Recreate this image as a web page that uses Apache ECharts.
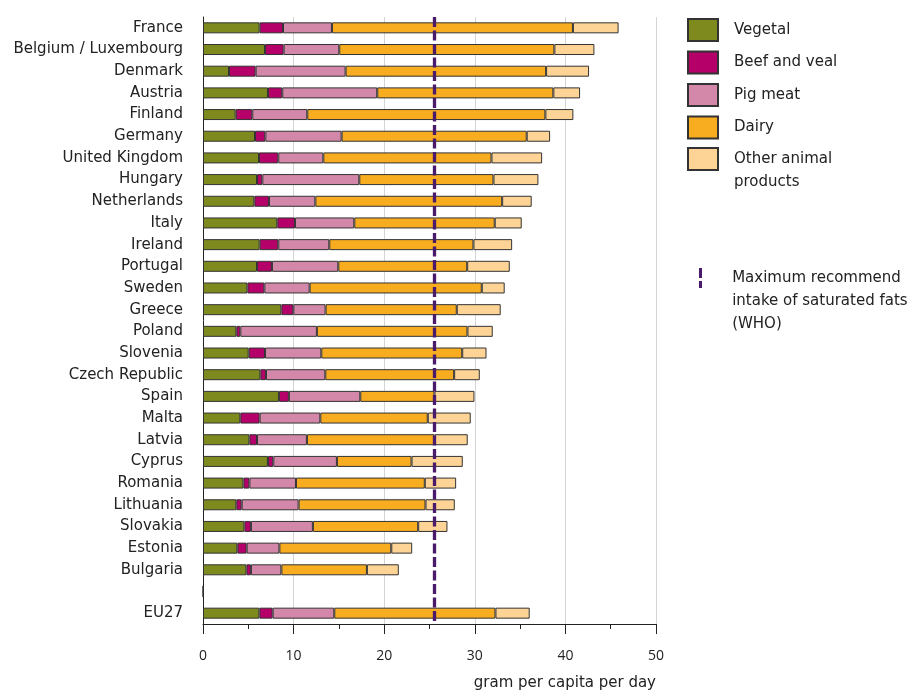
<!DOCTYPE html>
<html>
<head>
<meta charset="utf-8">
<script src="https://cdn.jsdelivr.net/npm/echarts@6/dist/echarts.min.js"></script>
<style>
html,body{margin:0;padding:0;background:#fff;}
#chart{width:911px;height:691px;}
</style>
</head>
<body>
<div id="chart"></div>
<script>
var categories = ['France','Belgium / Luxembourg','Denmark','Austria','Finland','Germany','United Kingdom','Hungary','Netherlands','Italy','Ireland','Portugal','Sweden','Greece','Poland','Slovenia','Czech Republic','Spain','Malta','Latvia','Cyprus','Romania','Lithuania','Slovakia','Estonia','Bulgaria','','EU27'];
var vegetal = [6.25,6.84,2.87,7.17,3.61,5.74,6.18,5.96,5.67,8.2,6.25,5.96,4.9,8.65,3.68,5.04,6.33,8.38,4.12,5.12,7.17,4.46,3.68,4.57,3.79,4.79,0,6.22];
var beefVeal = [2.58,2.06,2.94,1.58,1.83,1.14,2.13,0.59,1.61,1.95,2.06,1.65,1.87,1.32,0.44,1.8,0.62,1.1,2.13,0.84,0.59,0.66,0.59,0.72,1.03,0.5,'-',1.47];
var pigMeat = [5.4,6.14,9.93,10.48,6.07,8.42,4.97,10.7,5.12,6.55,5.63,7.32,5.0,3.56,8.45,6.22,6.55,7.88,6.7,5.51,7.02,5.14,6.28,6.84,3.61,3.36,'-',6.8];
var dairy = [26.6,23.74,22.13,19.44,26.28,20.43,18.56,14.81,20.62,15.5,15.91,14.23,19.0,14.48,16.62,15.55,14.22,8.19,11.86,14.08,8.24,14.22,14.01,11.62,12.35,9.44,'-',17.79];
var otherAnimal = [5.04,4.42,4.74,2.95,3.09,2.58,5.59,4.96,3.26,2.98,4.27,4.7,2.53,4.85,2.79,2.68,2.83,4.41,4.74,3.67,5.65,3.46,3.23,3.23,2.31,3.52,'-',3.78];
var whoLimit = 25.5;
var xTicks = [0,10,20,30,40,50];

var FONT = '"DejaVu Sans", "Open Sans", sans-serif';
var NUMFONT = '"Open Sans", "Noto Sans", sans-serif';
var seriesDefs = [
  {name:'Vegetal', data:vegetal, color:'#7f8a1e'},
  {name:'Beef and veal', data:beefVeal, color:'#b5006a'},
  {name:'Pig meat', data:pigMeat, color:'#d388a9'},
  {name:'Dairy', data:dairy, color:'#f8ac20'},
  {name:'Other animal products', data:otherAnimal, color:'#fdd495'}
];
var series = seriesDefs.map(function(d){
  return {
    name:d.name, type:'bar', stack:'total', barWidth:11, data:d.data,
    itemStyle:{color:d.color, borderColor:'#333333', borderWidth:1},
    emphasis:{disabled:true}, animation:false
  };
});
var WHO = 'Maximum recommend intake of saturated fats (WHO)';
series.push({
  name:WHO, type:'line', data:[], z:10, animation:false,
  itemStyle:{color:'#4a1a6b'}, lineStyle:{color:'#4a1a6b'},
  markLine:{
    silent:true, symbol:['none','none'], label:{show:false},
    lineStyle:{color:'#4a1a6b', width:3.3, type:[10,3.5]},
    data:[{xAxis:whoLimit}]
  }
});

var chart = echarts.init(document.getElementById('chart'), null, {renderer:'canvas'});
chart.setOption({
  animation:false,
  textStyle:{fontFamily:FONT},
  grid:{left:203, right:255, top:17, bottom:66, containLabel:false},
  xAxis:{
    type:'value', min:xTicks[0], max:xTicks[xTicks.length-1], interval:10,
    axisLine:{show:true, lineStyle:{color:'#222', width:1}},
    axisTick:{show:true, length:10, lineStyle:{color:'#222'}},
    minorTick:{show:true, splitNumber:2, length:5, lineStyle:{color:'#222'}},
    splitLine:{show:true, lineStyle:{color:'#d4d4d4', width:1}},
    axisLabel:{margin:25, fontSize:14, color:'#222', fontFamily:NUMFONT},
    name:'gram per capita per day', nameLocation:'end', nameGap:0,
    nameTextStyle:{align:'right', verticalAlign:'top', padding:[52,0,0,0], fontSize:15, color:'#222', fontFamily:FONT}
  },
  yAxis:{
    type:'category', data:categories, inverse:true,
    axisLine:{show:true, lineStyle:{color:'#222', width:1}},
    axisTick:{show:false},
    axisLabel:{margin:20, fontSize:15, color:'#222', fontFamily:FONT}
  },
  legend:[
    {
      orient:'vertical', left:687, top:18, padding:0, itemGap:8.5,
      itemWidth:30, itemHeight:22, icon:'rect', selectedMode:false,
      data:['Vegetal','Beef and veal','Pig meat','Dairy'],
      textStyle:{fontSize:15, lineHeight:22, color:'#222', padding:[0,0,0,11], fontFamily:FONT}
    },
    {
      orient:'vertical', left:687, top:123.75, padding:0,
      itemWidth:30, itemHeight:22, icon:'rect', selectedMode:false,
      data:['Other animal products'],
      formatter:function(){return '\nOther animal\nproducts';},
      textStyle:{fontSize:15, lineHeight:23.5, color:'#222', padding:[0,0,0,11], fontFamily:FONT}
    },
    {
      orient:'vertical', left:699, top:220.5, padding:0,
      itemWidth:3.3, itemHeight:20, selectedMode:false,
      icon:'path://M0,0L3,0L3,10L0,10Z M0,13L3,13L3,20L0,20Z',
      data:[WHO],
      formatter:function(){return '\n\nMaximum recommend\nintake of saturated fats\n(WHO)';},
      textStyle:{fontSize:15, lineHeight:23, color:'#222', padding:[0,0,0,25], fontFamily:FONT}
    }
  ],
  series:series
});
</script>
</body>
</html>
